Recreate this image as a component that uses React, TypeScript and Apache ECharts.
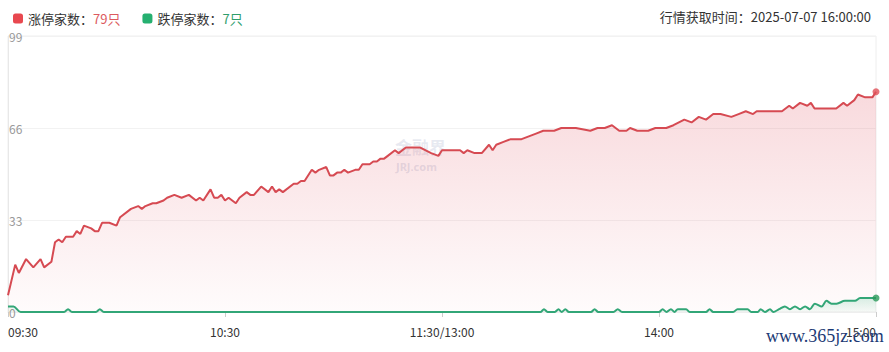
import React, { useEffect, useRef } from 'react';
import * as echarts from 'echarts';

const timeLabels = ['09:30', '10:30', '11:30/13:00', '14:00', '15:00'];
const yTicks = [0, 33, 66, 99];
const legendNames = ['涨停家数', '跌停家数'];
const legendCounts = ['79只', '7只'];
const updateTime = '行情获取时间：2025-07-07 16:00:00';

// minute index from 09:30 (0) to 15:00 (240), trading minutes only
const upMinutes = [0, 2, 3, 5, 7, 9, 10, 12, 13, 14, 15, 16, 18, 19, 20, 21, 23, 24, 25, 26, 28, 30, 31, 34, 36, 37, 38, 40, 41, 43, 44, 46, 48, 50, 52, 53, 54, 56, 57, 58, 59, 60, 61, 63, 64, 66, 67, 68, 70, 72, 73, 74, 75, 76, 79, 80, 81, 82, 84, 85, 86, 88, 89, 90, 91, 92, 93, 94, 96, 97, 98, 100, 101, 102, 103, 104, 105, 107, 108, 110, 114, 117, 119, 120, 125, 126, 127, 129, 131, 133, 134, 135, 137, 139, 142, 144, 146, 148, 151, 153, 157, 161, 163, 165, 167, 169, 171, 172, 174, 177, 179, 182, 184, 187, 189, 191, 193, 195, 197, 200, 202, 204, 206, 207, 214, 216, 217, 219, 221, 222, 223, 229, 231, 232, 234, 235, 237, 239, 240];
const upCounts = [6, 17, 14, 19, 16, 19, 16, 18, 25, 26, 25, 27, 27, 29, 28, 31, 30, 29, 29, 32, 32, 31, 34, 37, 38, 37, 38, 39, 39, 40, 41, 42, 41, 42, 40, 41, 40, 44, 41, 41, 42, 40, 41, 39, 41, 43, 42, 42, 45, 43, 45, 43, 44, 43, 46, 46, 47, 47, 51, 50, 51, 52, 49, 49, 50, 50, 51, 50, 51, 51, 53, 53, 54, 54, 55, 55, 56, 58, 57, 59, 59, 57, 56, 58, 58, 57, 58, 57, 57, 60, 58, 60, 61, 62, 62, 63, 64, 65, 65, 66, 66, 65, 66, 66, 67, 65, 65, 66, 65, 65, 66, 66, 67, 69, 68, 70, 69, 71, 71, 70, 71, 72, 71, 72, 72, 74, 73, 75, 74, 75, 73, 73, 75, 74, 76, 78, 77, 77, 79];

const downMinutes = [0, 1.5, 3.5, 15.5, 16.6, 17.7, 24.3, 25.4, 26.5, 147.2, 148.2, 149.2, 151.2, 152.2, 153.1, 154.1, 155.1, 161.2, 162.2, 163.2, 167.4, 168.6, 169.8, 180, 181, 182.1, 183.3, 184.3, 185.2, 187.5, 188.5, 193, 194, 195, 200.5, 201.7, 204.5, 205.5, 207.3, 208.1, 209.3, 210.7, 211.6, 213.2, 214.8, 216.2, 217.6, 219, 220.4, 221.7, 223.1, 225, 226.3, 227.7, 229.1, 231.4, 234.2, 235.6, 240];
const downCounts = [2, 2, 0, 0, 1, 0, 0, 1, 0, 0, 1, 0, 0, 1, 0, 1, 0, 0, 1, 0, 0, 1, 0, 0, 1, 0, 1, 0, 1, 1, 0, 0, 1, 0, 0, 1, 1, 0, 0, 1, 0, 1, 0, 1, 2, 1, 2, 1, 2, 1, 3, 2, 4, 3, 3, 4, 4, 5, 5];

const FONT = '"Noto Sans CJK SC", "Microsoft YaHei", sans-serif';

export default function App() {
  const ref = useRef<HTMLDivElement>(null);
  useEffect(() => {
    document.body.style.margin = '0';
    const chart = echarts.init(ref.current!, null, { renderer: 'svg' });
    const up = upMinutes.map((m, i) => [m, upCounts[i]]);
    const down = downMinutes.map((m, i) => [m, downCounts[i]]);
    const upLast = up[up.length - 1];
    const downLast = down[down.length - 1];
    chart.setOption({
      animation: false,
      textStyle: { fontFamily: FONT },
      title: {
        text: updateTime,
        right: 13,
        top: 5,
        textStyle: { fontSize: 13, fontWeight: 'normal', color: '#333', fontFamily: FONT },
      },
      legend: {
        left: 8,
        top: 7,
        icon: 'roundRect',
        itemWidth: 10,
        itemHeight: 10,
        itemGap: 22,
        selectedMode: false,
        data: [
          { name: legendNames[0], itemStyle: { color: '#e8484f' } },
          { name: legendNames[1], itemStyle: { color: '#25b070' } },
        ],
        formatter: (name: string) =>
          name === legendNames[0]
            ? `{n|${name}：}{r|${legendCounts[0]}}`
            : `{n|${name}：}{g|${legendCounts[1]}}`,
        textStyle: {
          fontSize: 13,
          fontFamily: FONT,
          rich: {
            n: { fontSize: 13, color: '#333', fontFamily: FONT },
            r: { fontSize: 13, color: '#dc5a5e', fontFamily: FONT },
            g: { fontSize: 13, color: '#2f9e6c', fontFamily: FONT },
          },
        },
      },
      grid: {
        left: 8,
        right: 13,
        top: 36,
        bottom: 40,
        show: true,
        borderColor: '#eeeeee',
        borderWidth: 1,
      },
      xAxis: {
        type: 'value',
        min: 0,
        max: 240,
        interval: 60,
        offset: 5,
        axisLine: { show: true, lineStyle: { color: '#eeeeee' } },
        axisTick: { show: true, length: 5, lineStyle: { color: '#cccccc' } },
        splitLine: { show: false },
        axisLabel: {
          formatter: (v: number) => timeLabels[Math.round(v / 60)] ?? '',
          color: '#333',
          fontSize: 12,
          margin: 8,
          fontFamily: FONT,
          alignMinLabel: 'left',
          alignMaxLabel: 'right',
        },
      },
      yAxis: {
        type: 'value',
        min: yTicks[0],
        max: yTicks[yTicks.length - 1],
        interval: 33,
        axisLine: { show: true, lineStyle: { color: '#e8e8e8' } },
        axisTick: { show: false },
        splitLine: { show: true, lineStyle: { color: '#f2f2f2' } },
        axisLabel: { inside: true, margin: 1, color: '#999', fontSize: 12, fontFamily: FONT },
      },
      graphic: [
        {
          type: 'text',
          left: 395,
          top: 138,
          z: 0,
          style: { text: '金融界', font: 'bold 17px "Noto Sans CJK SC"', fill: 'rgba(160,170,200,0.25)' },
        },
        {
          type: 'text',
          left: 396,
          top: 161,
          z: 0,
          style: { text: 'JRJ.com', font: 'bold 11px "Noto Sans"', fill: 'rgba(160,170,200,0.3)' },
        },
        {
          type: 'text',
          left: 766,
          top: 327,
          z: 100,
          style: { text: 'www.365jz.com', font: '18px "Liberation Serif"', fill: '#1c3a74' },
        },
      ],
      series: [
        {
          name: legendNames[0],
          type: 'line',
          data: up,
          showSymbol: false,
          z: 3,
          lineStyle: { color: '#d64a52', width: 2 },
          itemStyle: { color: '#d64a52' },
          areaStyle: {
            color: new echarts.graphic.LinearGradient(0, 0, 0, 1, [
              { offset: 0, color: 'rgba(226,90,104,0.32)' },
              { offset: 1, color: 'rgba(226,90,104,0.03)' },
            ]),
          },
        },
        {
          name: legendNames[1],
          type: 'line',
          data: down,
          showSymbol: false,
          smooth: 0.3,
          z: 4,
          lineStyle: { color: '#32a677', width: 2 },
          itemStyle: { color: '#32a677' },
          areaStyle: {
            color: new echarts.graphic.LinearGradient(0, 0, 0, 1, [
              { offset: 0, color: 'rgba(40,180,120,0.25)' },
              { offset: 1, color: 'rgba(40,180,120,0.05)' },
            ]),
          },
        },
        {
          type: 'scatter',
          name: 'end',
          data: [
            { value: upLast, itemStyle: { color: '#e05058' } },
            { value: downLast, itemStyle: { color: '#2a9a5a' } },
          ],
          symbolSize: 7,
          z: 5,
          silent: true,
        },
      ],
    });
    return () => chart.dispose();
  }, []);
  return <div ref={ref} style={{ width: 889, height: 352 }} />;
}
